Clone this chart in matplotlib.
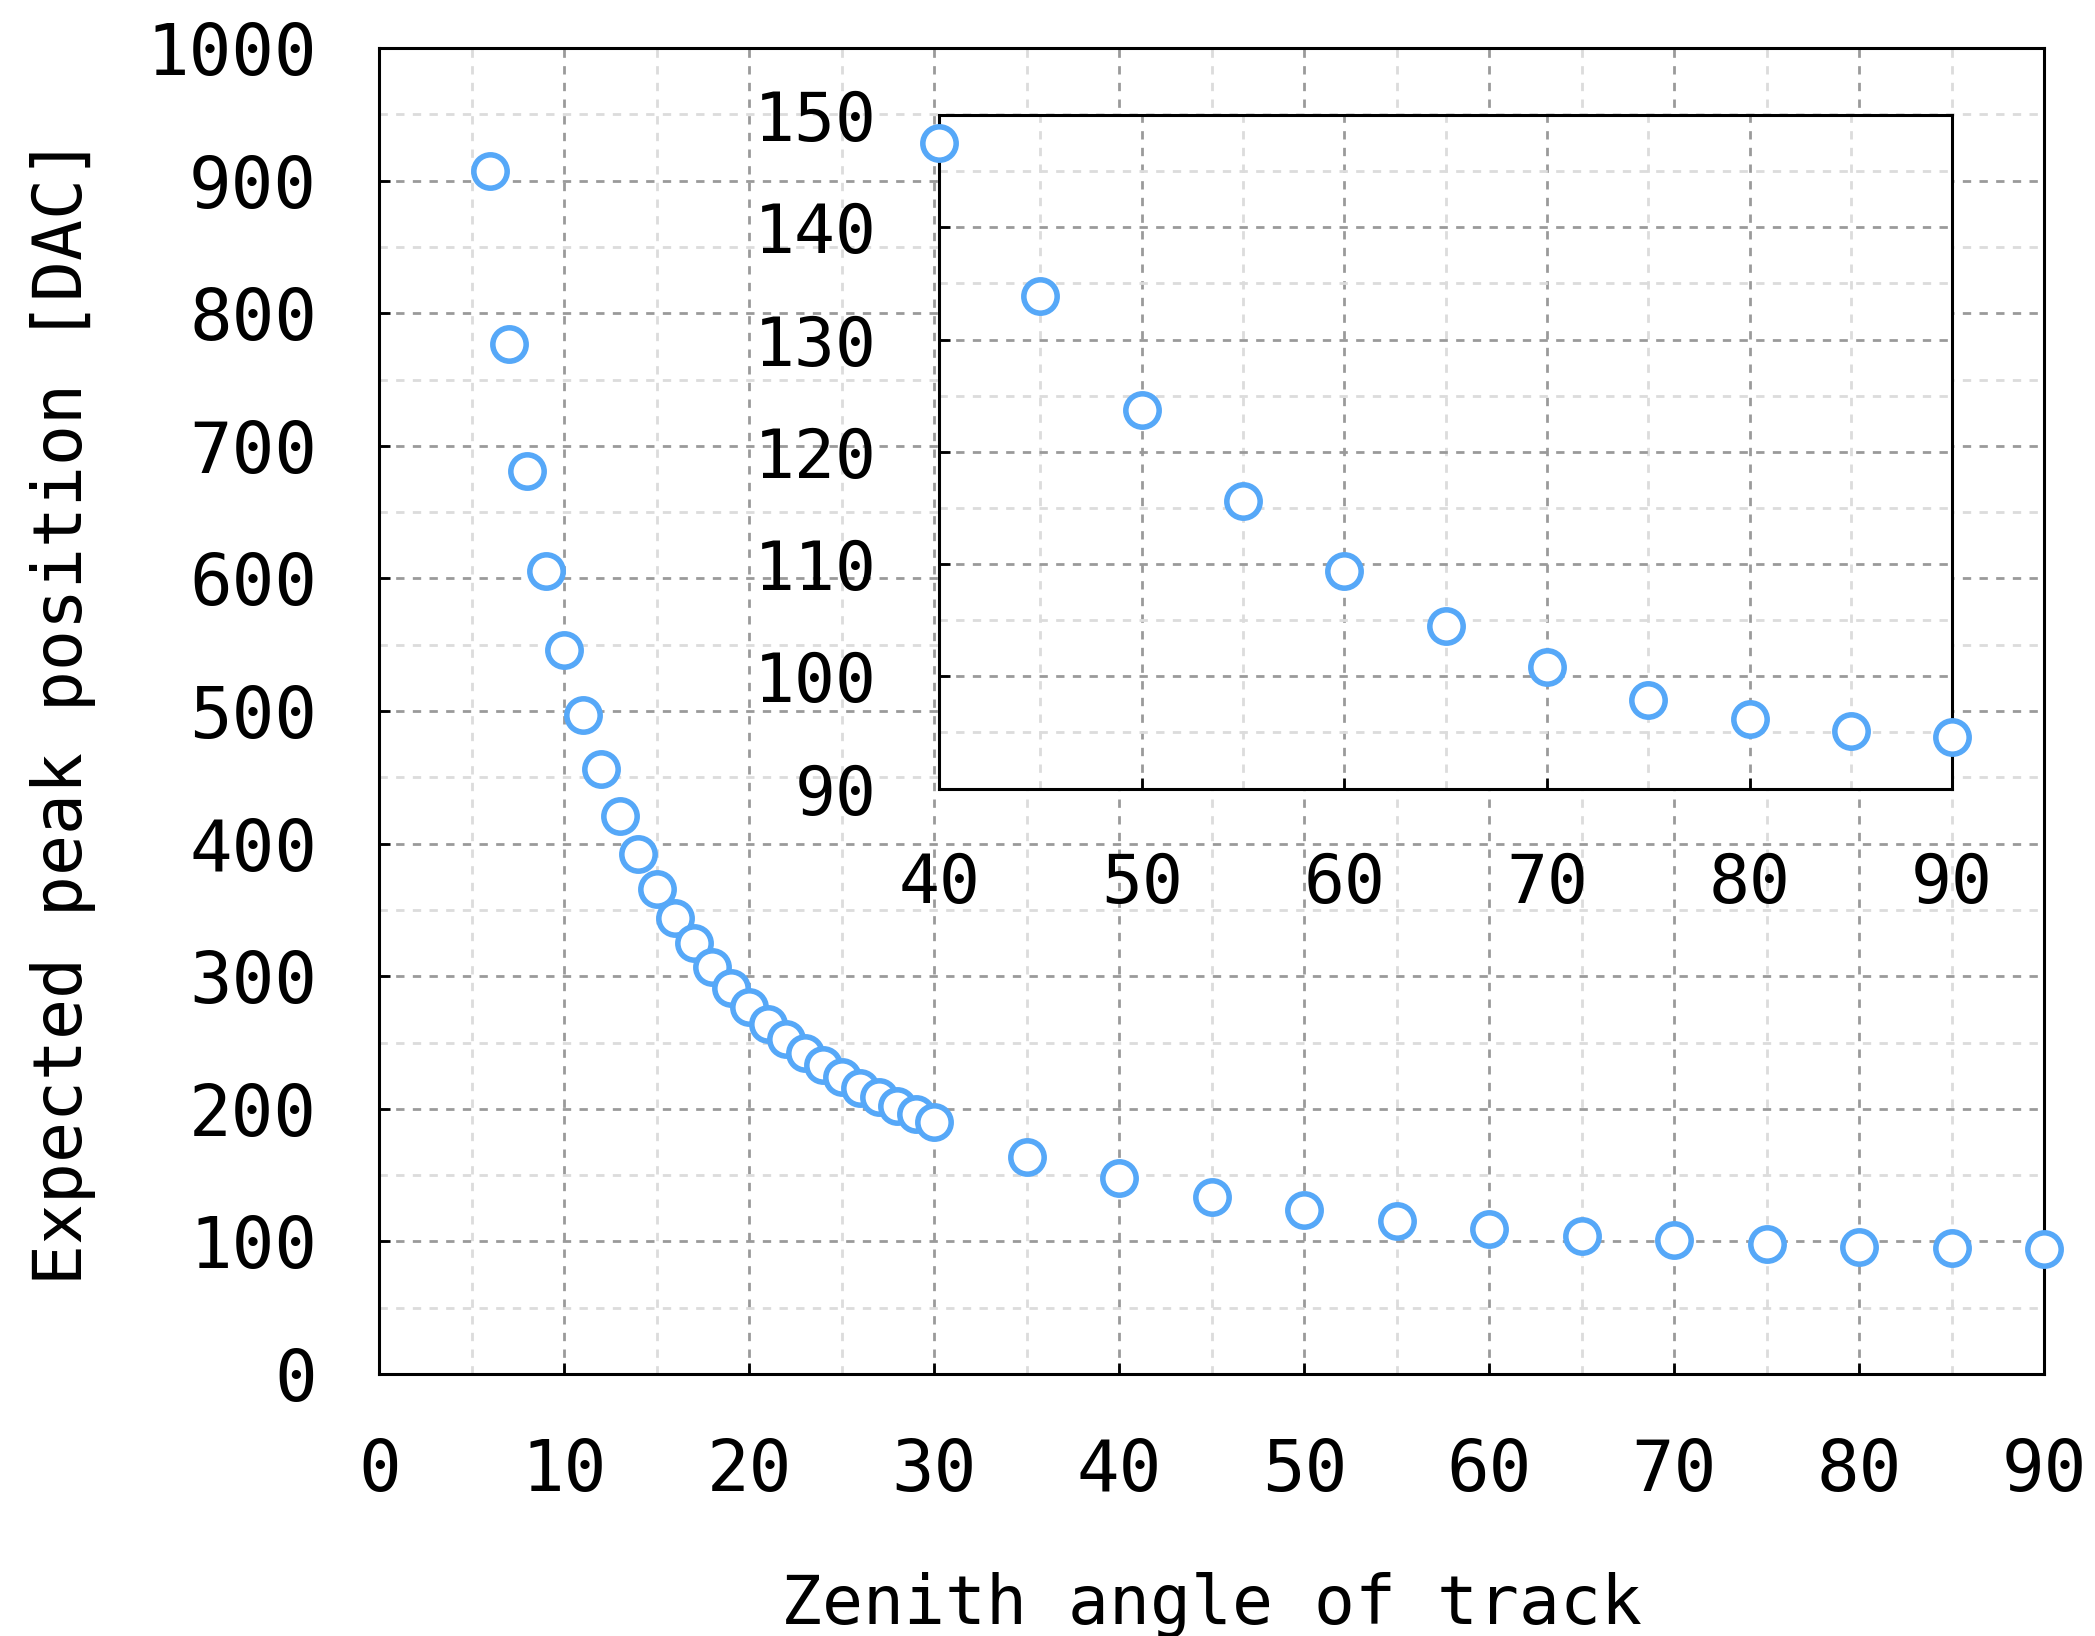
import numpy as np
import matplotlib
matplotlib.use('Agg')
import matplotlib.pyplot as plt
from matplotlib.ticker import MultipleLocator

plt.rcParams['font.family'] = ['DejaVu Sans Mono']

# zenith angle [deg] and expected peak position [DAC]
angle = [6, 7, 8, 9, 10, 11, 12, 13, 14, 15, 16, 17, 18, 19, 20,
         21, 22, 23, 24, 25, 26, 27, 28, 29, 30,
         35, 40, 45, 50, 55, 60, 65, 70, 75, 80, 85, 90]
peak = [907, 777, 681, 606, 546, 497, 456, 421, 392, 366, 344, 325, 307, 291, 277,
        264, 253, 242, 233, 224, 216, 209, 202, 196, 190,
        164, 147.5, 133.9, 123.7, 115.6, 109.4, 104.5, 100.8, 97.9, 96.2, 95.1, 94.6]

angle_zoom = [40, 45, 50, 55, 60, 65, 70, 75, 80, 85, 90]
peak_zoom = [147.5, 133.9, 123.7, 115.6, 109.4, 104.5, 100.8, 97.9, 96.2, 95.1, 94.6]

blue = '#56a8f8'
fs = 51

fig = plt.figure(figsize=(20.95, 16.36), dpi=100)


def style(ax, xmaj, xmin, ymaj, ymin, size):
    ax.xaxis.set_major_locator(MultipleLocator(xmaj))
    ax.xaxis.set_minor_locator(MultipleLocator(xmin))
    ax.yaxis.set_major_locator(MultipleLocator(ymaj))
    ax.yaxis.set_minor_locator(MultipleLocator(ymin))
    ax.grid(which='major', color='#9a9a9a', linestyle=(0, (3, 3)), linewidth=2)
    ax.grid(which='minor', color='#dcdcdc', linestyle=(0, (3, 3)), linewidth=2)
    ax.set_axisbelow(True)
    ax.tick_params(which='major', direction='in', length=8, width=2,
                   labelsize=size, pad=45)
    ax.tick_params(which='minor', length=0)
    for s in ax.spines.values():
        s.set_linewidth(2.2)


ax = fig.add_axes([0.1811, 0.1601, 0.7947, 0.8105])
ax.plot(angle, peak, 'o', ms=24, mfc='white', mec=blue, mew=4, clip_on=False, zorder=3)
ax.set_xlim(0, 90)
ax.set_ylim(0, 1000)
style(ax, 10, 5, 100, 50, fs)
ax.set_xlabel('Zenith angle of track', fontsize=49, labelpad=48)
ax.set_ylabel('Expected peak position [DAC]', fontsize=49, labelpad=36)

ins = fig.add_axes([0.4483, 0.5180, 0.4835, 0.4117])
ins.plot(angle_zoom, peak_zoom, 'o', ms=24, mfc='white', mec=blue, mew=4, clip_on=False, zorder=3)
ins.set_xlim(40, 90)
ins.set_ylim(90, 150)
style(ins, 10, 5, 10, 5, 49)

fig.savefig('out.png', dpi=100)
